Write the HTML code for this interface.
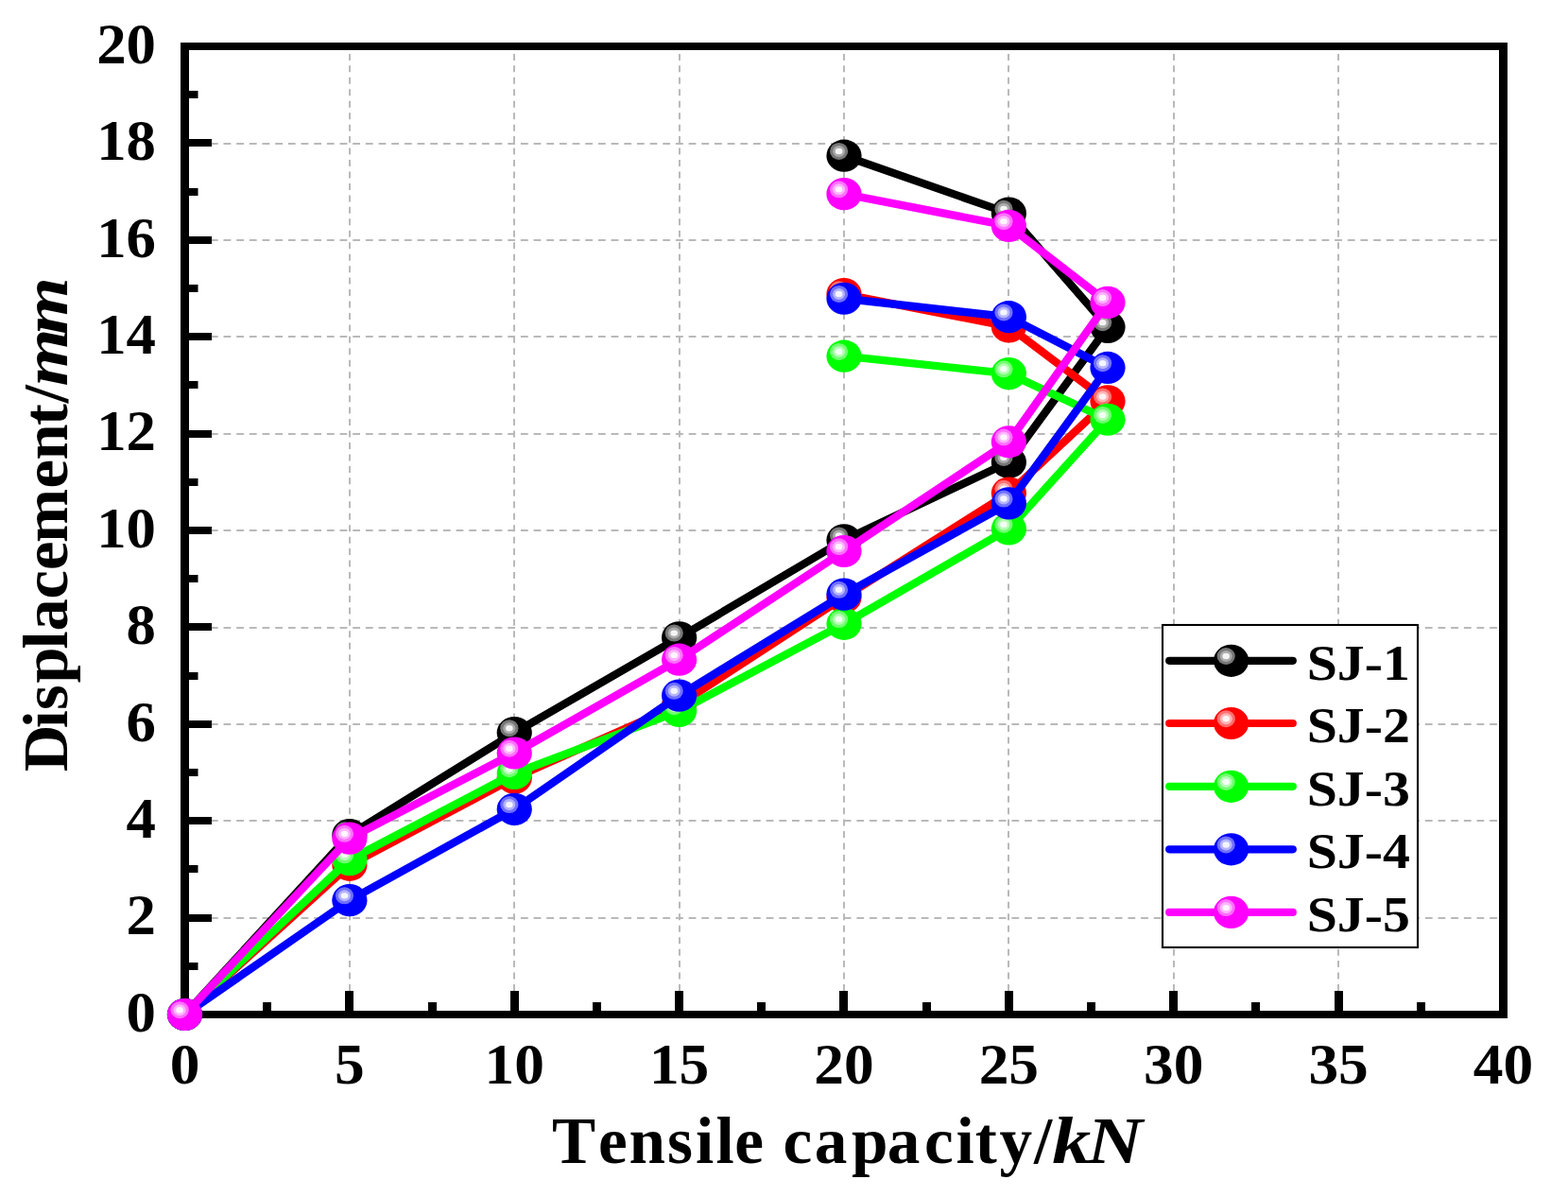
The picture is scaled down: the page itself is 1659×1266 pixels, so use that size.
<!DOCTYPE html>
<html><head><meta charset="utf-8"><title>Tensile capacity vs Displacement</title>
<style>
html,body{margin:0;padding:0;background:#fff;width:1659px;height:1266px;overflow:hidden}
svg{display:block}
text{font-family:"Liberation Serif","Times New Roman",serif;font-weight:bold;fill:#000}
</style></head><body>
<svg width="1659" height="1266" viewBox="0 0 1659 1266">
<rect width="1659" height="1266" fill="#fff"/>

<g stroke="#b9b9b9" stroke-width="2" fill="none">
<line x1="370" y1="56.9" x2="370" y2="1069" stroke-dasharray="7 5.457"/>
<line x1="544" y1="56.9" x2="544" y2="1069" stroke-dasharray="7 5.457"/>
<line x1="719" y1="56.9" x2="719" y2="1069" stroke-dasharray="7 5.457"/>
<line x1="893" y1="56.9" x2="893" y2="1069" stroke-dasharray="7 5.457"/>
<line x1="1067" y1="56.9" x2="1067" y2="1069" stroke-dasharray="7 5.457"/>
<line x1="1242" y1="56.9" x2="1242" y2="1069" stroke-dasharray="7 5.457"/>
<line x1="1416" y1="56.9" x2="1416" y2="1069" stroke-dasharray="7 5.457"/>
<line x1="195.5" y1="971" x2="1586" y2="971" stroke-dasharray="7.8 5.87"/>
<line x1="195.5" y1="868" x2="1586" y2="868" stroke-dasharray="7.8 5.87"/>
<line x1="195.5" y1="766" x2="1586" y2="766" stroke-dasharray="7.8 5.87"/>
<line x1="195.5" y1="664" x2="1586" y2="664" stroke-dasharray="7.8 5.87"/>
<line x1="195.5" y1="561" x2="1586" y2="561" stroke-dasharray="7.8 5.87"/>
<line x1="195.5" y1="459" x2="1586" y2="459" stroke-dasharray="7.8 5.87"/>
<line x1="195.5" y1="356" x2="1586" y2="356" stroke-dasharray="7.8 5.87"/>
<line x1="195.5" y1="254" x2="1586" y2="254" stroke-dasharray="7.8 5.87"/>
<line x1="195.5" y1="152" x2="1586" y2="152" stroke-dasharray="7.8 5.87"/>
</g>
<g fill="#000">
<rect x="191" y="45" width="1404" height="8"/>
<rect x="191" y="1069" width="1404" height="8"/>
<rect x="191" y="45" width="9" height="1032"/>
<rect x="1586" y="45" width="9" height="1032"/>
<rect x="200" y="1018" width="9.5" height="8"/>
<rect x="200" y="967" width="24" height="8"/>
<rect x="200" y="915" width="9.5" height="8"/>
<rect x="200" y="864" width="24" height="8"/>
<rect x="200" y="813" width="9.5" height="8"/>
<rect x="200" y="762" width="24" height="8"/>
<rect x="200" y="711" width="9.5" height="8"/>
<rect x="200" y="659" width="24" height="8"/>
<rect x="200" y="608" width="9.5" height="8"/>
<rect x="200" y="557" width="24" height="8"/>
<rect x="200" y="506" width="9.5" height="8"/>
<rect x="200" y="455" width="24" height="8"/>
<rect x="200" y="403" width="9.5" height="8"/>
<rect x="200" y="352" width="24" height="8"/>
<rect x="200" y="301" width="9.5" height="8"/>
<rect x="200" y="250" width="24" height="8"/>
<rect x="200" y="199" width="9.5" height="8"/>
<rect x="200" y="147" width="24" height="8"/>
<rect x="200" y="96" width="9.5" height="8"/>
<rect x="278" y="1060" width="9" height="10"/>
<rect x="365" y="1048" width="9" height="22"/>
<rect x="453" y="1060" width="9" height="10"/>
<rect x="540" y="1048" width="9" height="22"/>
<rect x="627" y="1060" width="9" height="10"/>
<rect x="714" y="1048" width="9" height="22"/>
<rect x="801" y="1060" width="9" height="10"/>
<rect x="888" y="1048" width="9" height="22"/>
<rect x="976" y="1060" width="9" height="10"/>
<rect x="1063" y="1048" width="9" height="22"/>
<rect x="1150" y="1060" width="9" height="10"/>
<rect x="1237" y="1048" width="9" height="22"/>
<rect x="1324" y="1060" width="9" height="10"/>
<rect x="1412" y="1048" width="9" height="22"/>
<rect x="1499" y="1060" width="9" height="10"/>
</g>
<polyline points="195.50,1073.00 369.88,883.05 544.25,775.02 718.62,674.41 893.00,571.24 1067.38,488.81 1172.00,345.96 1067.38,225.64 893.00,164.71" fill="none" stroke="#000000" stroke-width="8.4" stroke-linejoin="round" stroke-linecap="round"/>
<ellipse cx="195.50" cy="1073.00" rx="18.6" ry="17.1" fill="#000000"/><ellipse cx="190.10" cy="1068.20" rx="9.6" ry="9" fill="#777777"/><ellipse cx="190.10" cy="1068.20" rx="6.5" ry="6" fill="#aaaaaa"/><ellipse cx="190.10" cy="1068.20" rx="3.8" ry="3.2" fill="#f4f4f4"/>
<ellipse cx="369.88" cy="883.05" rx="18.6" ry="17.1" fill="#000000"/><ellipse cx="364.48" cy="878.25" rx="9.6" ry="9" fill="#777777"/><ellipse cx="364.48" cy="878.25" rx="6.5" ry="6" fill="#aaaaaa"/><ellipse cx="364.48" cy="878.25" rx="3.8" ry="3.2" fill="#f4f4f4"/>
<ellipse cx="544.25" cy="775.02" rx="18.6" ry="17.1" fill="#000000"/><ellipse cx="538.85" cy="770.22" rx="9.6" ry="9" fill="#777777"/><ellipse cx="538.85" cy="770.22" rx="6.5" ry="6" fill="#aaaaaa"/><ellipse cx="538.85" cy="770.22" rx="3.8" ry="3.2" fill="#f4f4f4"/>
<ellipse cx="718.62" cy="674.41" rx="18.6" ry="17.1" fill="#000000"/><ellipse cx="713.23" cy="669.61" rx="9.6" ry="9" fill="#777777"/><ellipse cx="713.23" cy="669.61" rx="6.5" ry="6" fill="#aaaaaa"/><ellipse cx="713.23" cy="669.61" rx="3.8" ry="3.2" fill="#f4f4f4"/>
<ellipse cx="893.00" cy="571.24" rx="18.6" ry="17.1" fill="#000000"/><ellipse cx="887.60" cy="566.44" rx="9.6" ry="9" fill="#777777"/><ellipse cx="887.60" cy="566.44" rx="6.5" ry="6" fill="#aaaaaa"/><ellipse cx="887.60" cy="566.44" rx="3.8" ry="3.2" fill="#f4f4f4"/>
<ellipse cx="1067.38" cy="488.81" rx="18.6" ry="17.1" fill="#000000"/><ellipse cx="1061.97" cy="484.01" rx="9.6" ry="9" fill="#777777"/><ellipse cx="1061.97" cy="484.01" rx="6.5" ry="6" fill="#aaaaaa"/><ellipse cx="1061.97" cy="484.01" rx="3.8" ry="3.2" fill="#f4f4f4"/>
<ellipse cx="1172.00" cy="345.96" rx="18.6" ry="17.1" fill="#000000"/><ellipse cx="1166.60" cy="341.16" rx="9.6" ry="9" fill="#777777"/><ellipse cx="1166.60" cy="341.16" rx="6.5" ry="6" fill="#aaaaaa"/><ellipse cx="1166.60" cy="341.16" rx="3.8" ry="3.2" fill="#f4f4f4"/>
<ellipse cx="1067.38" cy="225.64" rx="18.6" ry="17.1" fill="#000000"/><ellipse cx="1061.97" cy="220.84" rx="9.6" ry="9" fill="#777777"/><ellipse cx="1061.97" cy="220.84" rx="6.5" ry="6" fill="#aaaaaa"/><ellipse cx="1061.97" cy="220.84" rx="3.8" ry="3.2" fill="#f4f4f4"/>
<ellipse cx="893.00" cy="164.71" rx="18.6" ry="17.1" fill="#000000"/><ellipse cx="887.60" cy="159.91" rx="9.6" ry="9" fill="#777777"/><ellipse cx="887.60" cy="159.91" rx="6.5" ry="6" fill="#aaaaaa"/><ellipse cx="887.60" cy="159.91" rx="3.8" ry="3.2" fill="#f4f4f4"/>
<polyline points="195.50,1073.00 369.88,914.79 544.25,822.63 718.62,745.32 893.00,631.66 1067.38,521.58 1172.00,424.30 1067.38,345.45 893.00,311.14" fill="none" stroke="#ff0000" stroke-width="8.4" stroke-linejoin="round" stroke-linecap="round"/>
<ellipse cx="195.50" cy="1073.00" rx="18.6" ry="17.1" fill="#ff0000"/><ellipse cx="190.10" cy="1068.20" rx="9.6" ry="9" fill="#ff7070"/><ellipse cx="190.10" cy="1068.20" rx="6.5" ry="6" fill="#ffb4b4"/><ellipse cx="190.10" cy="1068.20" rx="3.8" ry="3.2" fill="#fff4f4"/>
<ellipse cx="369.88" cy="914.79" rx="18.6" ry="17.1" fill="#ff0000"/><ellipse cx="364.48" cy="909.99" rx="9.6" ry="9" fill="#ff7070"/><ellipse cx="364.48" cy="909.99" rx="6.5" ry="6" fill="#ffb4b4"/><ellipse cx="364.48" cy="909.99" rx="3.8" ry="3.2" fill="#fff4f4"/>
<ellipse cx="544.25" cy="822.63" rx="18.6" ry="17.1" fill="#ff0000"/><ellipse cx="538.85" cy="817.83" rx="9.6" ry="9" fill="#ff7070"/><ellipse cx="538.85" cy="817.83" rx="6.5" ry="6" fill="#ffb4b4"/><ellipse cx="538.85" cy="817.83" rx="3.8" ry="3.2" fill="#fff4f4"/>
<ellipse cx="718.62" cy="745.32" rx="18.6" ry="17.1" fill="#ff0000"/><ellipse cx="713.23" cy="740.52" rx="9.6" ry="9" fill="#ff7070"/><ellipse cx="713.23" cy="740.52" rx="6.5" ry="6" fill="#ffb4b4"/><ellipse cx="713.23" cy="740.52" rx="3.8" ry="3.2" fill="#fff4f4"/>
<ellipse cx="893.00" cy="631.66" rx="18.6" ry="17.1" fill="#ff0000"/><ellipse cx="887.60" cy="626.86" rx="9.6" ry="9" fill="#ff7070"/><ellipse cx="887.60" cy="626.86" rx="6.5" ry="6" fill="#ffb4b4"/><ellipse cx="887.60" cy="626.86" rx="3.8" ry="3.2" fill="#fff4f4"/>
<ellipse cx="1067.38" cy="521.58" rx="18.6" ry="17.1" fill="#ff0000"/><ellipse cx="1061.97" cy="516.78" rx="9.6" ry="9" fill="#ff7070"/><ellipse cx="1061.97" cy="516.78" rx="6.5" ry="6" fill="#ffb4b4"/><ellipse cx="1061.97" cy="516.78" rx="3.8" ry="3.2" fill="#fff4f4"/>
<ellipse cx="1172.00" cy="424.30" rx="18.6" ry="17.1" fill="#ff0000"/><ellipse cx="1166.60" cy="419.50" rx="9.6" ry="9" fill="#ff7070"/><ellipse cx="1166.60" cy="419.50" rx="6.5" ry="6" fill="#ffb4b4"/><ellipse cx="1166.60" cy="419.50" rx="3.8" ry="3.2" fill="#fff4f4"/>
<ellipse cx="1067.38" cy="345.45" rx="18.6" ry="17.1" fill="#ff0000"/><ellipse cx="1061.97" cy="340.65" rx="9.6" ry="9" fill="#ff7070"/><ellipse cx="1061.97" cy="340.65" rx="6.5" ry="6" fill="#ffb4b4"/><ellipse cx="1061.97" cy="340.65" rx="3.8" ry="3.2" fill="#fff4f4"/>
<ellipse cx="893.00" cy="311.14" rx="18.6" ry="17.1" fill="#ff0000"/><ellipse cx="887.60" cy="306.34" rx="9.6" ry="9" fill="#ff7070"/><ellipse cx="887.60" cy="306.34" rx="6.5" ry="6" fill="#ffb4b4"/><ellipse cx="887.60" cy="306.34" rx="3.8" ry="3.2" fill="#fff4f4"/>
<polyline points="195.50,1073.00 369.88,909.16 544.25,818.02 718.62,751.98 893.00,659.82 1067.38,559.46 1172.00,443.75 1067.38,395.11 893.00,376.68" fill="none" stroke="#00ff00" stroke-width="8.4" stroke-linejoin="round" stroke-linecap="round"/>
<ellipse cx="195.50" cy="1073.00" rx="18.6" ry="17.1" fill="#00ff00"/><ellipse cx="190.10" cy="1068.20" rx="9.6" ry="9" fill="#70ff70"/><ellipse cx="190.10" cy="1068.20" rx="6.5" ry="6" fill="#b4ffb4"/><ellipse cx="190.10" cy="1068.20" rx="3.8" ry="3.2" fill="#f4fff4"/>
<ellipse cx="369.88" cy="909.16" rx="18.6" ry="17.1" fill="#00ff00"/><ellipse cx="364.48" cy="904.36" rx="9.6" ry="9" fill="#70ff70"/><ellipse cx="364.48" cy="904.36" rx="6.5" ry="6" fill="#b4ffb4"/><ellipse cx="364.48" cy="904.36" rx="3.8" ry="3.2" fill="#f4fff4"/>
<ellipse cx="544.25" cy="818.02" rx="18.6" ry="17.1" fill="#00ff00"/><ellipse cx="538.85" cy="813.22" rx="9.6" ry="9" fill="#70ff70"/><ellipse cx="538.85" cy="813.22" rx="6.5" ry="6" fill="#b4ffb4"/><ellipse cx="538.85" cy="813.22" rx="3.8" ry="3.2" fill="#f4fff4"/>
<ellipse cx="718.62" cy="751.98" rx="18.6" ry="17.1" fill="#00ff00"/><ellipse cx="713.23" cy="747.18" rx="9.6" ry="9" fill="#70ff70"/><ellipse cx="713.23" cy="747.18" rx="6.5" ry="6" fill="#b4ffb4"/><ellipse cx="713.23" cy="747.18" rx="3.8" ry="3.2" fill="#f4fff4"/>
<ellipse cx="893.00" cy="659.82" rx="18.6" ry="17.1" fill="#00ff00"/><ellipse cx="887.60" cy="655.02" rx="9.6" ry="9" fill="#70ff70"/><ellipse cx="887.60" cy="655.02" rx="6.5" ry="6" fill="#b4ffb4"/><ellipse cx="887.60" cy="655.02" rx="3.8" ry="3.2" fill="#f4fff4"/>
<ellipse cx="1067.38" cy="559.46" rx="18.6" ry="17.1" fill="#00ff00"/><ellipse cx="1061.97" cy="554.66" rx="9.6" ry="9" fill="#70ff70"/><ellipse cx="1061.97" cy="554.66" rx="6.5" ry="6" fill="#b4ffb4"/><ellipse cx="1061.97" cy="554.66" rx="3.8" ry="3.2" fill="#f4fff4"/>
<ellipse cx="1172.00" cy="443.75" rx="18.6" ry="17.1" fill="#00ff00"/><ellipse cx="1166.60" cy="438.95" rx="9.6" ry="9" fill="#70ff70"/><ellipse cx="1166.60" cy="438.95" rx="6.5" ry="6" fill="#b4ffb4"/><ellipse cx="1166.60" cy="438.95" rx="3.8" ry="3.2" fill="#f4fff4"/>
<ellipse cx="1067.38" cy="395.11" rx="18.6" ry="17.1" fill="#00ff00"/><ellipse cx="1061.97" cy="390.31" rx="9.6" ry="9" fill="#70ff70"/><ellipse cx="1061.97" cy="390.31" rx="6.5" ry="6" fill="#b4ffb4"/><ellipse cx="1061.97" cy="390.31" rx="3.8" ry="3.2" fill="#f4fff4"/>
<ellipse cx="893.00" cy="376.68" rx="18.6" ry="17.1" fill="#00ff00"/><ellipse cx="887.60" cy="371.88" rx="9.6" ry="9" fill="#70ff70"/><ellipse cx="887.60" cy="371.88" rx="6.5" ry="6" fill="#b4ffb4"/><ellipse cx="887.60" cy="371.88" rx="3.8" ry="3.2" fill="#f4fff4"/>
<polyline points="195.50,1073.00 369.88,952.17 544.25,855.91 718.62,735.59 893.00,628.58 1067.38,532.33 1172.00,388.97 1067.38,335.21 893.00,315.75" fill="none" stroke="#0000ff" stroke-width="8.4" stroke-linejoin="round" stroke-linecap="round"/>
<ellipse cx="195.50" cy="1073.00" rx="18.6" ry="17.1" fill="#0000ff"/><ellipse cx="190.10" cy="1068.20" rx="9.6" ry="9" fill="#7070ff"/><ellipse cx="190.10" cy="1068.20" rx="6.5" ry="6" fill="#b4b4ff"/><ellipse cx="190.10" cy="1068.20" rx="3.8" ry="3.2" fill="#f4f4ff"/>
<ellipse cx="369.88" cy="952.17" rx="18.6" ry="17.1" fill="#0000ff"/><ellipse cx="364.48" cy="947.37" rx="9.6" ry="9" fill="#7070ff"/><ellipse cx="364.48" cy="947.37" rx="6.5" ry="6" fill="#b4b4ff"/><ellipse cx="364.48" cy="947.37" rx="3.8" ry="3.2" fill="#f4f4ff"/>
<ellipse cx="544.25" cy="855.91" rx="18.6" ry="17.1" fill="#0000ff"/><ellipse cx="538.85" cy="851.11" rx="9.6" ry="9" fill="#7070ff"/><ellipse cx="538.85" cy="851.11" rx="6.5" ry="6" fill="#b4b4ff"/><ellipse cx="538.85" cy="851.11" rx="3.8" ry="3.2" fill="#f4f4ff"/>
<ellipse cx="718.62" cy="735.59" rx="18.6" ry="17.1" fill="#0000ff"/><ellipse cx="713.23" cy="730.79" rx="9.6" ry="9" fill="#7070ff"/><ellipse cx="713.23" cy="730.79" rx="6.5" ry="6" fill="#b4b4ff"/><ellipse cx="713.23" cy="730.79" rx="3.8" ry="3.2" fill="#f4f4ff"/>
<ellipse cx="893.00" cy="628.58" rx="18.6" ry="17.1" fill="#0000ff"/><ellipse cx="887.60" cy="623.78" rx="9.6" ry="9" fill="#7070ff"/><ellipse cx="887.60" cy="623.78" rx="6.5" ry="6" fill="#b4b4ff"/><ellipse cx="887.60" cy="623.78" rx="3.8" ry="3.2" fill="#f4f4ff"/>
<ellipse cx="1067.38" cy="532.33" rx="18.6" ry="17.1" fill="#0000ff"/><ellipse cx="1061.97" cy="527.53" rx="9.6" ry="9" fill="#7070ff"/><ellipse cx="1061.97" cy="527.53" rx="6.5" ry="6" fill="#b4b4ff"/><ellipse cx="1061.97" cy="527.53" rx="3.8" ry="3.2" fill="#f4f4ff"/>
<ellipse cx="1172.00" cy="388.97" rx="18.6" ry="17.1" fill="#0000ff"/><ellipse cx="1166.60" cy="384.17" rx="9.6" ry="9" fill="#7070ff"/><ellipse cx="1166.60" cy="384.17" rx="6.5" ry="6" fill="#b4b4ff"/><ellipse cx="1166.60" cy="384.17" rx="3.8" ry="3.2" fill="#f4f4ff"/>
<ellipse cx="1067.38" cy="335.21" rx="18.6" ry="17.1" fill="#0000ff"/><ellipse cx="1061.97" cy="330.41" rx="9.6" ry="9" fill="#7070ff"/><ellipse cx="1061.97" cy="330.41" rx="6.5" ry="6" fill="#b4b4ff"/><ellipse cx="1061.97" cy="330.41" rx="3.8" ry="3.2" fill="#f4f4ff"/>
<ellipse cx="893.00" cy="315.75" rx="18.6" ry="17.1" fill="#0000ff"/><ellipse cx="887.60" cy="310.95" rx="9.6" ry="9" fill="#7070ff"/><ellipse cx="887.60" cy="310.95" rx="6.5" ry="6" fill="#b4b4ff"/><ellipse cx="887.60" cy="310.95" rx="3.8" ry="3.2" fill="#f4f4ff"/>
<polyline points="195.50,1073.00 369.88,886.63 544.25,796.52 718.62,697.70 893.00,583.02 1067.38,467.30 1172.00,319.85 1067.38,238.95 893.00,205.16" fill="none" stroke="#ff00ff" stroke-width="8.4" stroke-linejoin="round" stroke-linecap="round"/>
<ellipse cx="195.50" cy="1073.00" rx="18.6" ry="17.1" fill="#ff00ff"/><ellipse cx="190.10" cy="1068.20" rx="9.6" ry="9" fill="#ff70ff"/><ellipse cx="190.10" cy="1068.20" rx="6.5" ry="6" fill="#ffb4ff"/><ellipse cx="190.10" cy="1068.20" rx="3.8" ry="3.2" fill="#fff4ff"/>
<ellipse cx="369.88" cy="886.63" rx="18.6" ry="17.1" fill="#ff00ff"/><ellipse cx="364.48" cy="881.83" rx="9.6" ry="9" fill="#ff70ff"/><ellipse cx="364.48" cy="881.83" rx="6.5" ry="6" fill="#ffb4ff"/><ellipse cx="364.48" cy="881.83" rx="3.8" ry="3.2" fill="#fff4ff"/>
<ellipse cx="544.25" cy="796.52" rx="18.6" ry="17.1" fill="#ff00ff"/><ellipse cx="538.85" cy="791.72" rx="9.6" ry="9" fill="#ff70ff"/><ellipse cx="538.85" cy="791.72" rx="6.5" ry="6" fill="#ffb4ff"/><ellipse cx="538.85" cy="791.72" rx="3.8" ry="3.2" fill="#fff4ff"/>
<ellipse cx="718.62" cy="697.70" rx="18.6" ry="17.1" fill="#ff00ff"/><ellipse cx="713.23" cy="692.90" rx="9.6" ry="9" fill="#ff70ff"/><ellipse cx="713.23" cy="692.90" rx="6.5" ry="6" fill="#ffb4ff"/><ellipse cx="713.23" cy="692.90" rx="3.8" ry="3.2" fill="#fff4ff"/>
<ellipse cx="893.00" cy="583.02" rx="18.6" ry="17.1" fill="#ff00ff"/><ellipse cx="887.60" cy="578.22" rx="9.6" ry="9" fill="#ff70ff"/><ellipse cx="887.60" cy="578.22" rx="6.5" ry="6" fill="#ffb4ff"/><ellipse cx="887.60" cy="578.22" rx="3.8" ry="3.2" fill="#fff4ff"/>
<ellipse cx="1067.38" cy="467.30" rx="18.6" ry="17.1" fill="#ff00ff"/><ellipse cx="1061.97" cy="462.50" rx="9.6" ry="9" fill="#ff70ff"/><ellipse cx="1061.97" cy="462.50" rx="6.5" ry="6" fill="#ffb4ff"/><ellipse cx="1061.97" cy="462.50" rx="3.8" ry="3.2" fill="#fff4ff"/>
<ellipse cx="1172.00" cy="319.85" rx="18.6" ry="17.1" fill="#ff00ff"/><ellipse cx="1166.60" cy="315.05" rx="9.6" ry="9" fill="#ff70ff"/><ellipse cx="1166.60" cy="315.05" rx="6.5" ry="6" fill="#ffb4ff"/><ellipse cx="1166.60" cy="315.05" rx="3.8" ry="3.2" fill="#fff4ff"/>
<ellipse cx="1067.38" cy="238.95" rx="18.6" ry="17.1" fill="#ff00ff"/><ellipse cx="1061.97" cy="234.15" rx="9.6" ry="9" fill="#ff70ff"/><ellipse cx="1061.97" cy="234.15" rx="6.5" ry="6" fill="#ffb4ff"/><ellipse cx="1061.97" cy="234.15" rx="3.8" ry="3.2" fill="#fff4ff"/>
<ellipse cx="893.00" cy="205.16" rx="18.6" ry="17.1" fill="#ff00ff"/><ellipse cx="887.60" cy="200.36" rx="9.6" ry="9" fill="#ff70ff"/><ellipse cx="887.60" cy="200.36" rx="6.5" ry="6" fill="#ffb4ff"/><ellipse cx="887.60" cy="200.36" rx="3.8" ry="3.2" fill="#fff4ff"/>
<rect x="1230" y="661" width="270" height="341" fill="#fff" stroke="#000" stroke-width="2.1"/>
<line x1="1237.2" y1="698.8" x2="1367.8" y2="698.8" stroke="#000000" stroke-width="8.2" stroke-linecap="round"/>
<ellipse cx="1302.60" cy="698.80" rx="18.6" ry="17.1" fill="#000000"/><ellipse cx="1297.20" cy="694.00" rx="9.6" ry="9" fill="#777777"/><ellipse cx="1297.20" cy="694.00" rx="6.5" ry="6" fill="#aaaaaa"/><ellipse cx="1297.20" cy="694.00" rx="3.8" ry="3.2" fill="#f4f4f4"/>
<text x="1382.7" y="718.7" font-size="53.5" transform="translate(1382.7 0) scale(1.08 1) translate(-1382.7 0)">SJ-1</text>
<line x1="1237.2" y1="765.0" x2="1367.8" y2="765.0" stroke="#ff0000" stroke-width="8.2" stroke-linecap="round"/>
<ellipse cx="1302.60" cy="765.00" rx="18.6" ry="17.1" fill="#ff0000"/><ellipse cx="1297.20" cy="760.20" rx="9.6" ry="9" fill="#ff7070"/><ellipse cx="1297.20" cy="760.20" rx="6.5" ry="6" fill="#ffb4b4"/><ellipse cx="1297.20" cy="760.20" rx="3.8" ry="3.2" fill="#fff4f4"/>
<text x="1382.7" y="784.9" font-size="53.5" transform="translate(1382.7 0) scale(1.08 1) translate(-1382.7 0)">SJ-2</text>
<line x1="1237.2" y1="831.8" x2="1367.8" y2="831.8" stroke="#00ff00" stroke-width="8.2" stroke-linecap="round"/>
<ellipse cx="1302.60" cy="831.80" rx="18.6" ry="17.1" fill="#00ff00"/><ellipse cx="1297.20" cy="827.00" rx="9.6" ry="9" fill="#70ff70"/><ellipse cx="1297.20" cy="827.00" rx="6.5" ry="6" fill="#b4ffb4"/><ellipse cx="1297.20" cy="827.00" rx="3.8" ry="3.2" fill="#f4fff4"/>
<text x="1382.7" y="851.7" font-size="53.5" transform="translate(1382.7 0) scale(1.08 1) translate(-1382.7 0)">SJ-3</text>
<line x1="1237.2" y1="898.3" x2="1367.8" y2="898.3" stroke="#0000ff" stroke-width="8.2" stroke-linecap="round"/>
<ellipse cx="1302.60" cy="898.30" rx="18.6" ry="17.1" fill="#0000ff"/><ellipse cx="1297.20" cy="893.50" rx="9.6" ry="9" fill="#7070ff"/><ellipse cx="1297.20" cy="893.50" rx="6.5" ry="6" fill="#b4b4ff"/><ellipse cx="1297.20" cy="893.50" rx="3.8" ry="3.2" fill="#f4f4ff"/>
<text x="1382.7" y="918.2" font-size="53.5" transform="translate(1382.7 0) scale(1.08 1) translate(-1382.7 0)">SJ-4</text>
<line x1="1237.2" y1="964.9" x2="1367.8" y2="964.9" stroke="#ff00ff" stroke-width="8.2" stroke-linecap="round"/>
<ellipse cx="1302.60" cy="964.90" rx="18.6" ry="17.1" fill="#ff00ff"/><ellipse cx="1297.20" cy="960.10" rx="9.6" ry="9" fill="#ff70ff"/><ellipse cx="1297.20" cy="960.10" rx="6.5" ry="6" fill="#ffb4ff"/><ellipse cx="1297.20" cy="960.10" rx="3.8" ry="3.2" fill="#fff4ff"/>
<text x="1382.7" y="984.8" font-size="53.5" transform="translate(1382.7 0) scale(1.08 1) translate(-1382.7 0)">SJ-5</text>
<text x="165" y="1090.9" font-size="61" text-anchor="end" transform="translate(165 0) scale(1.03 1) translate(-165 0)">0</text>
<text x="165" y="988.5" font-size="61" text-anchor="end" transform="translate(165 0) scale(1.03 1) translate(-165 0)">2</text>
<text x="165" y="886.1" font-size="61" text-anchor="end" transform="translate(165 0) scale(1.03 1) translate(-165 0)">4</text>
<text x="165" y="783.7" font-size="61" text-anchor="end" transform="translate(165 0) scale(1.03 1) translate(-165 0)">6</text>
<text x="165" y="681.3" font-size="61" text-anchor="end" transform="translate(165 0) scale(1.03 1) translate(-165 0)">8</text>
<text x="165" y="578.9" font-size="61" text-anchor="end" transform="translate(165 0) scale(1.03 1) translate(-165 0)">10</text>
<text x="165" y="476.5" font-size="61" text-anchor="end" transform="translate(165 0) scale(1.03 1) translate(-165 0)">12</text>
<text x="165" y="374.1" font-size="61" text-anchor="end" transform="translate(165 0) scale(1.03 1) translate(-165 0)">14</text>
<text x="165" y="271.7" font-size="61" text-anchor="end" transform="translate(165 0) scale(1.03 1) translate(-165 0)">16</text>
<text x="165" y="169.3" font-size="61" text-anchor="end" transform="translate(165 0) scale(1.03 1) translate(-165 0)">18</text>
<text x="165" y="66.9" font-size="61" text-anchor="end" transform="translate(165 0) scale(1.03 1) translate(-165 0)">20</text>
<text x="195.50" y="1146" font-size="61" text-anchor="middle" transform="translate(195.50 0) scale(1.04 1) translate(-195.50 0)">0</text>
<text x="369.88" y="1146" font-size="61" text-anchor="middle" transform="translate(369.88 0) scale(1.04 1) translate(-369.88 0)">5</text>
<text x="544.25" y="1146" font-size="61" text-anchor="middle" transform="translate(544.25 0) scale(1.04 1) translate(-544.25 0)">10</text>
<text x="718.62" y="1146" font-size="61" text-anchor="middle" transform="translate(718.62 0) scale(1.04 1) translate(-718.62 0)">15</text>
<text x="893.00" y="1146" font-size="61" text-anchor="middle" transform="translate(893.00 0) scale(1.04 1) translate(-893.00 0)">20</text>
<text x="1067.38" y="1146" font-size="61" text-anchor="middle" transform="translate(1067.38 0) scale(1.04 1) translate(-1067.38 0)">25</text>
<text x="1241.75" y="1146" font-size="61" text-anchor="middle" transform="translate(1241.75 0) scale(1.04 1) translate(-1241.75 0)">30</text>
<text x="1416.12" y="1146" font-size="61" text-anchor="middle" transform="translate(1416.12 0) scale(1.04 1) translate(-1416.12 0)">35</text>
<text x="1590.50" y="1146" font-size="61" text-anchor="middle" transform="translate(1590.50 0) scale(1.04 1) translate(-1590.50 0)">40</text>
<text x="584.0 633.1 665.4 706.1 736.0 757.5 777.3 807.3 828.5 861.8 900.9 938.7 978.0 1011.4 1031.8 1057.5 1093.9" y="1229.6" font-size="69.2">Tensile capacity/</text>
<text transform="matrix(1.18 0 0 1 0 0)" x="943.5 974.5" y="1229.6" font-size="69.2" font-style="italic">kN</text>
<text transform="translate(70.8 818) rotate(-90)" x="1.8 47.8 66.9 95.4 131.4 150.6 184.5 215.0 244.1 301.6 331.4 368.0 391.7" y="0" font-size="68.6">Displacement/</text>
<text transform="translate(70.8 818) rotate(-90) scale(1.14 1)" x="359.2 407.0" y="0" font-size="68.6" font-style="italic">mm</text>
</svg></body></html>
